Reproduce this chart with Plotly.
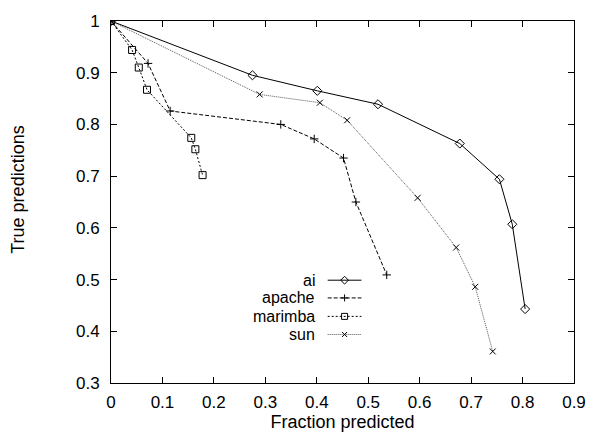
import plotly.graph_objects as go

# ---- data ----
ai_x = [0.0, 0.275, 0.401, 0.519, 0.678, 0.755, 0.780, 0.805]
ai_y = [1.0, 0.895, 0.865, 0.839, 0.763, 0.694, 0.607, 0.443]

apache_x = [0.0, 0.072, 0.115, 0.330, 0.395, 0.452, 0.476, 0.536]
apache_y = [1.0, 0.918, 0.826, 0.800, 0.772, 0.735, 0.650, 0.509]

marimba_x = [0.0, 0.041, 0.054, 0.070, 0.156, 0.164, 0.178]
marimba_y = [1.0, 0.944, 0.910, 0.867, 0.774, 0.752, 0.702]

sun_x = [0.0, 0.289, 0.406, 0.459, 0.596, 0.671, 0.708, 0.742]
sun_y = [1.0, 0.858, 0.842, 0.808, 0.658, 0.562, 0.486, 0.361]

series_names = ["ai", "apache", "marimba", "sun"]
x_ticks = [0, 0.1, 0.2, 0.3, 0.4, 0.5, 0.6, 0.7, 0.8, 0.9]
y_ticks = [0.3, 0.4, 0.5, 0.6, 0.7, 0.8, 0.9, 1.0]

styles = {
    "ai": dict(color="#000000", dash="solid", symbol="diamond-open", msize=7),
    "apache": dict(color="#000000", dash="4px,2px", symbol="cross-thin-open", msize=6),
    "marimba": dict(color="#000000", dash="2px,2px", symbol="square-open", msize=7),
    "sun": dict(color="#555555", dash="1px,1px", symbol="x-thin-open", msize=6),
}
data = {
    "ai": (ai_x, ai_y),
    "apache": (apache_x, apache_y),
    "marimba": (marimba_x, marimba_y),
    "sun": (sun_x, sun_y),
}

FONT = "Liberation Sans, Arial, Helvetica, sans-serif"
FS_TITLE = 18
FS_TICK = 17
FS_KEY = 16

fig = go.Figure()
for name in series_names:
    xs, ys = data[name]
    s = styles[name]
    fig.add_trace(go.Scatter(
        x=xs, y=ys, mode="lines+markers", name=name,
        line=dict(color=s["color"], width=1, dash=s["dash"]),
        marker=dict(symbol=s["symbol"], size=s["msize"], color="#000000",
                    line=dict(width=1, color="#000000")),
        showlegend=False,
    ))

# gnuplot-style key (text left, sample right) on an overlay axis in [0,1]
key_x0, key_x1 = 0.468, 0.541   # paper fractions along x
key_rows = [0.284, 0.235, 0.184, 0.134]
for name, yk in zip(series_names, key_rows):
    s = styles[name]
    fig.add_trace(go.Scatter(
        x=[key_x0, key_x1], y=[yk, yk], mode="lines",
        line=dict(color=s["color"], width=1, dash=s["dash"]),
        xaxis="x2", yaxis="y2", showlegend=False, hoverinfo="skip"))
    fig.add_trace(go.Scatter(
        x=[(key_x0 + key_x1) / 2], y=[yk], mode="markers",
        marker=dict(symbol=s["symbol"], size=s["msize"] - 1, color="#000000",
                    line=dict(width=1, color="#000000")),
        xaxis="x2", yaxis="y2", showlegend=False, hoverinfo="skip"))
    fig.add_annotation(x=key_x0 - 0.0234, y=yk, xref="x2", yref="y2",
                       text=name, showarrow=False, xanchor="right",
                       yanchor="middle", font=dict(family=FONT, size=FS_KEY, color="#000"))

fig.add_annotation(x=-0.2, y=0.535, xref="paper", yref="paper",
                   text="True predictions", textangle=-90, showarrow=False,
                   xanchor="center", yanchor="middle",
                   font=dict(family=FONT, size=FS_TITLE, color="#000"))

axis_common = dict(showgrid=False, zeroline=False, showline=True, linecolor="#000",
                   linewidth=1, mirror="allticks", ticks="inside", ticklen=6,
                   tickcolor="#000", tickwidth=1,
                   tickfont=dict(family=FONT, size=FS_TICK, color="#000"))

fig.update_layout(
    width=598, height=437,
    margin=dict(l=110.5, r=14.7, t=12.3, b=51),
    paper_bgcolor="white", plot_bgcolor="white",
    xaxis=dict(range=[0, 0.9], tickvals=x_ticks,
               ticktext=[("%g" % v) for v in x_ticks],
               title=dict(text="Fraction predicted", standoff=0,
                          font=dict(family=FONT, size=FS_TITLE, color="#000")),
               ticklabelstandoff=4, **axis_common),
    yaxis=dict(range=[0.3, 1.0], tickvals=y_ticks,
               ticktext=[("%g" % v) for v in y_ticks],
               ticklabelstandoff=7, **axis_common),
    xaxis2=dict(range=[0, 1], overlaying="x", visible=False, fixedrange=True),
    yaxis2=dict(range=[0, 1], overlaying="y", visible=False, fixedrange=True),
    showlegend=False,
)

fig.write_html("out.html")
